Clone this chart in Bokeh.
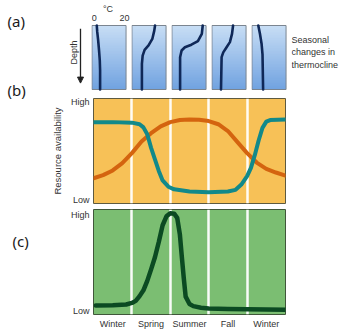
import numpy as np
from bokeh.plotting import figure
from bokeh.layouts import row, column
from bokeh.models import Range1d, FixedTicker, Label, Arrow, NormalHead, Grid
from bokeh.core.properties import value
from bokeh.embed import file_html
from bokeh.resources import INLINE

# ---------------- data ----------------
seasons = ["Winter", "Spring", "Summer", "Fall", "Winter"]
season_centers = [0.5, 1.5, 2.5, 3.5, 4.5]
season_bounds = [1, 2, 3, 4]
level_labels = ["Low", "High"]
level_ticks_b = [0.03, 0.97]
level_ticks_c = [0.03, 0.944]

# (a) thermocline profiles: temperature (deg C) against depth (0 = surface, 1 = bottom)
temp_ticks = [0, 20]
temp_lims = [-1.6, 21.0]
winter1_depth = [0, 0.10, 0.23, 0.39, 0.55, 0.70, 1.0]
winter1_temp = [1.6, 1.9, 2.5, 3.1, 3.6, 3.8, 3.8]
spring_depth = [0, 0.08, 0.21, 0.31, 0.38, 0.47, 0.60, 1.0]
spring_temp = [13.7, 13.2, 11.9, 9.4, 6.8, 5.5, 5.0, 5.0]
summer_depth = [0, 0.13, 0.245, 0.30, 0.34, 0.39, 0.495, 1.0]
summer_temp = [18.8, 18.2, 15.6, 11.3, 7.0, 4.8, 3.8, 3.8]
fall_depth = [0, 0.13, 0.26, 0.34, 0.42, 0.495, 1.0]
fall_temp = [12.4, 11.7, 10.3, 8.1, 5.9, 4.8, 4.4]
winter2_depth = [0, 0.13, 0.29, 0.45, 1.0]
winter2_temp = [2.6, 3.7, 4.8, 5.4, 5.8]

# (b) resource availability (0 = low, 1 = high), x in seasons (0..5)
nutr_x = [0, 0.5, 1.0, 1.2, 1.3, 1.4, 1.5, 1.6, 1.7, 1.8, 1.95, 2.1, 2.5, 3.0, 3.5,
          3.7, 3.85, 4.0, 4.1, 4.2, 4.3, 4.4, 4.5, 4.6, 5.0]
nutr_y = [0.775, 0.775, 0.77, 0.755, 0.725, 0.66, 0.53, 0.42, 0.31, 0.22, 0.16, 0.135,
          0.115, 0.108, 0.115, 0.13, 0.18, 0.26, 0.34, 0.46, 0.60, 0.72, 0.78, 0.795, 0.80]
light_x = [0, 0.25, 0.5, 0.75, 1.0, 1.25, 1.5, 1.75, 2.0, 2.25, 2.5, 2.75, 3.0, 3.25,
           3.5, 3.75, 4.0, 4.25, 4.5, 4.75, 5.0]
light_y = [0.24, 0.27, 0.315, 0.385, 0.48, 0.59, 0.67, 0.735, 0.775, 0.795, 0.80, 0.797,
           0.785, 0.755, 0.69, 0.585, 0.48, 0.39, 0.33, 0.295, 0.265]

# (c) net primary productivity
npp_x = [0.06, 0.5, 0.85, 1.0, 1.1, 1.2, 1.3, 1.4, 1.5, 1.6, 1.7, 1.8, 1.9, 2.0, 2.1,
         2.18, 2.25, 2.3, 2.35, 2.4, 2.5, 2.6, 2.8, 3.0, 3.5, 4.0, 4.5, 5.0]
npp_y = [0.086, 0.088, 0.095, 0.11, 0.13, 0.175, 0.23, 0.32, 0.43, 0.545, 0.69, 0.85,
         0.935, 0.965, 0.96, 0.92, 0.76, 0.55, 0.35, 0.17, 0.10, 0.08, 0.065, 0.058,
         0.052, 0.05, 0.048, 0.046]

# ---------------- style ----------------
FONT_NAME = "Liberation Sans"
FONT = value(FONT_NAME)
TXT = "#333333"
ROW_A_H = 95
BOX_TOP = 25
BOX_H = 64
HEAD = BOX_TOP / BOX_H
FOOT = (ROW_A_H - BOX_TOP - BOX_H) / BOX_H
BOX_W_PX = 35
GAP_PX = 5
T_LO, T_HI = -1.9, 21.3
T_GAP = (T_HI - T_LO) * GAP_PX / BOX_W_PX


def depth_range():
    return Range1d(1 + FOOT, -HEAD)


def drop_grids(p):
    for r in list(p.center):
        if isinstance(r, Grid):
            p.center.remove(r)


def plain(w, h, xr, yr, **kw):
    p = figure(width=w, height=h, x_range=xr, y_range=yr, toolbar_location=None,
               output_backend="svg", min_border=0, x_axis_location=None,
               y_axis_location=None, **kw)
    p.outline_line_color = None
    p.background_fill_color = "white"
    p.border_fill_color = "white"
    drop_grids(p)
    return p


# left strip with panel letters
strip = plain(48, 331, Range1d(0, 48), Range1d(331, 0))
strip.text(x=[7, 7, 12], y=[20, 89, 240], text=["(a)", "(b)", "(c)"],
           text_font=value("Noto Sans"), text_font_size="15px",
           text_baseline="middle", text_align="left", text_color="#1a1a1a")

# depth arrow
pdep = plain(43, ROW_A_H, Range1d(0, 43), depth_range())
pdep.add_layout(Arrow(end=NormalHead(size=6, fill_color="#222222", line_color="#222222"),
                      x_start=32, y_start=0.05, x_end=32, y_end=0.9,
                      line_color="#222222", line_width=1.3))
pdep.text(x=[25], y=[0.42], text=["Depth"], angle=np.pi / 2, text_font=FONT,
          text_font_size="9px", text_align="center", text_baseline="middle",
          text_color=TXT)

# thermocline boxes
profiles = [(winter1_temp, winter1_depth), (spring_temp, spring_depth),
            (summer_temp, summer_depth), (fall_temp, fall_depth),
            (winter2_temp, winter2_depth)]
n = 40
edges = np.linspace(0, 1, n + 1)
top_rgb = np.array([200, 222, 245])
bot_rgb = np.array([112, 162, 224])
mids = (edges[:-1] + edges[1:]) / 2
grad = ["#%02x%02x%02x" % tuple(int(round(v)) for v in top_rgb + (bot_rgb - top_rgb) * t)
        for t in mids]

boxes = []
for i, (tmp, dep) in enumerate(profiles):
    p = plain(BOX_W_PX + GAP_PX, ROW_A_H, Range1d(T_LO, T_HI + T_GAP), depth_range())
    p.quad(left=temp_lims[0], right=temp_lims[1], top=edges[:-1],
           bottom=np.minimum(edges[1:] + 0.01, 1), fill_color=grad, line_color=None)
    p.quad(left=[temp_lims[0]], right=[temp_lims[1]], top=[0], bottom=[1],
           fill_color=None, line_color="#7b8590", line_width=1)
    p.line(tmp, dep, line_color="#0f2858", line_width=2.6, line_cap="round",
           line_join="round")
    if i == 0:
        p.text(x=temp_ticks, y=[-0.11] * len(temp_ticks), text=[str(t) for t in temp_ticks],
               text_font=FONT, text_font_size="9px", text_align="center",
               text_baseline="middle", text_color=TXT)
        p.text(x=[sum(temp_ticks) / 2 - 1], y=[-0.26], text=["\u00b0C"], text_font=FONT,
               text_font_size="9px", text_align="center", text_baseline="middle",
               text_color=TXT)
    boxes.append(p)

pright = plain(51, ROW_A_H, Range1d(0, 51), depth_range())
pright.text(x=[0], y=[0.42], text=["Seasonal\nchanges in\nthermocline"], text_font=FONT,
            text_font_size="9px", text_align="left", text_baseline="middle",
            text_line_height=1.25, text_color=TXT)

row_a = row(pdep, *boxes, pright)


def panel(h, bg, outline, ticks, border_bottom, xaxis):
    p = figure(width=294, height=h, x_range=Range1d(0, 5), y_range=Range1d(0, 1),
               toolbar_location=None, output_backend="svg",
               min_border_left=41, min_border_right=57, min_border_top=3,
               min_border_bottom=border_bottom,
               x_axis_location="below" if xaxis else None)
    p.background_fill_color = bg
    p.border_fill_color = "white"
    p.outline_line_color = outline
    p.outline_line_width = 1
    drop_grids(p)
    p.add_layout(Grid(dimension=0, ticker=FixedTicker(ticks=season_bounds),
                      grid_line_color="white", grid_line_width=2.5, grid_line_alpha=0.95))
    ya = p.yaxis[0]
    ya.ticker = FixedTicker(ticks=ticks)
    ya.major_label_overrides = dict(zip(ticks, level_labels))
    ya.axis_line_color = None
    ya.major_tick_line_color = None
    ya.minor_tick_line_color = None
    ya.major_tick_out = 0
    ya.major_tick_in = 0
    ya.major_label_standoff = 4
    ya.major_label_text_font = FONT_NAME
    ya.major_label_text_font_size = "9px"
    ya.major_label_text_color = TXT
    if xaxis:
        xa = p.xaxis[0]
        xa.ticker = FixedTicker(ticks=season_centers)
        xa.major_label_overrides = dict(zip(season_centers, seasons))
        xa.axis_line_color = None
        xa.major_tick_line_color = None
        xa.minor_tick_line_color = None
        xa.major_tick_out = 0
        xa.major_tick_in = 0
        xa.major_label_standoff = 4
        xa.major_label_text_font = FONT_NAME
        xa.major_label_text_font_size = "9px"
        xa.major_label_text_color = TXT
    return p


pb = panel(111, "#F7C157", "#5e5a40", level_ticks_b, 3, False)
pb.yaxis[0].axis_label = "Resource availability"
pb.yaxis[0].axis_label_text_font = FONT_NAME
pb.yaxis[0].axis_label_text_font_size = "9.5px"
pb.yaxis[0].axis_label_text_font_style = "normal"
pb.yaxis[0].axis_label_text_color = TXT
pb.yaxis[0].axis_label_standoff = 5
pb.line(light_x, light_y, line_color="#D4640F", line_width=4, line_cap="round",
        line_join="round")
pb.line(nutr_x, nutr_y, line_color="#12898A", line_width=4, line_cap="round",
        line_join="round")
pb.add_layout(Label(x=5, y=nutr_y[-1], x_offset=3, text="Nutrients", text_font=FONT_NAME,
                    text_font_size="9px", text_baseline="middle", text_color=TXT))
pb.add_layout(Label(x=5, y=light_y[-1], x_offset=3, text="Temperature\nand light",
                    text_font=FONT_NAME, text_font_size="9px", text_baseline="middle",
                    text_line_height=1.25, text_color=TXT))

pc = panel(125, "#7BBE72", "#40573a", level_ticks_c, 15, True)
pc.line(npp_x, npp_y, line_color="#0B4A22", line_width=4.5, line_cap="round",
        line_join="round")
pc.add_layout(Label(x=5, y=npp_y[-1], x_offset=3, y_offset=-2,
                    text="Net\nprimary\nproductivity", text_font=FONT_NAME,
                    text_font_size="9px", text_baseline="bottom",
                    text_line_height=1.25, text_color=TXT))

layout = row(strip, column(row_a, pb, pc))

open("out.html", "w").write(file_html(layout, INLINE))
